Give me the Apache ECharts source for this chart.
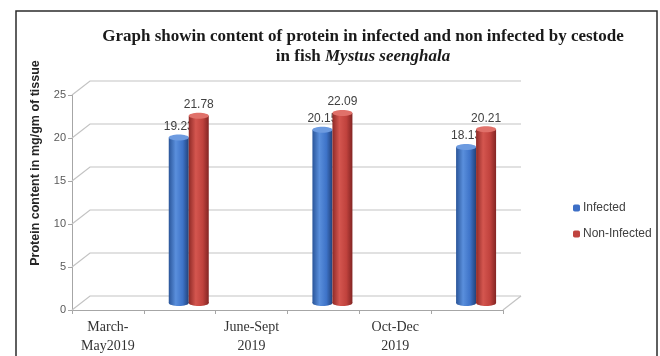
<!DOCTYPE html>
<html>
<head>
<meta charset="utf-8">
<script src="https://cdn.jsdelivr.net/npm/echarts@6/dist/echarts.min.js"></script>
<style>
  html, body { margin: 0; padding: 0; background: #fff; }
  #chart { width: 660px; height: 356px; }
</style>
</head>
<body>
<div id="chart"></div>
<script>
// Sampling periods (every other slot left blank, bars sit in the blank slots)
const categories = ['March-\nMay2019', '', 'June-Sept\n2019', '', 'Oct-Dec\n2019', ''];
// Protein content, mg/gm of tissue
const infected    = [null, 19.23, null, 20.15, null, 18.13];
const nonInfected = [null, 21.78, null, 22.09, null, 20.21];
const yTicks = [0, 5, 10, 15, 20, 25];

// Depth of the pseudo-3D box (pixels toward the back wall)
const DX = 18, DY = -14;
const BAR_W = 20;

const pairs = arr => arr.map((v, i) => v == null ? null : [i, v]).filter(Boolean);

function barRenderer(side, colors) {
  return function (params, api) {
    const idx = api.value(0), v = api.value(1);
    const top = api.coord([idx, v]);
    const base = api.coord([idx, 0]);
    const x0 = side === 'left' ? top[0] + DX / 2 - BAR_W : top[0] + DX / 2;
    const yTop = top[1] + DY / 2;
    const yBase = base[1] + DY / 2;
    const grad = new echarts.graphic.LinearGradient(0, 0, 1, 0, [
      { offset: 0, color: colors[0] },
      { offset: 0.35, color: colors[1] },
      { offset: 0.7, color: colors[2] },
      { offset: 1, color: colors[3] }
    ]);
    return {
      type: 'group',
      children: [
        { type: 'ellipse', shape: { cx: x0 + BAR_W / 2, cy: yBase, rx: BAR_W / 2, ry: 3 }, style: { fill: grad } },
        { type: 'rect', shape: { x: x0, y: yTop, width: BAR_W, height: yBase - yTop }, style: { fill: grad } },
        { type: 'ellipse', shape: { cx: x0 + BAR_W / 2, cy: yTop, rx: BAR_W / 2, ry: 3 }, style: { fill: colors[4] } },
        { type: 'text', style: {
            text: api.value(1).toFixed(2), x: x0 + BAR_W / 2, y: yTop - 5,
            align: 'center', verticalAlign: 'bottom',
            font: '12px "Liberation Sans", Arial, sans-serif', fill: '#404040'
        } }
      ]
    };
  };
}

const chart = echarts.init(document.getElementById('chart'), null, { renderer: 'canvas' });

chart.setOption({
  backgroundColor: '#ffffff',
  animation: false,
  title: {
    left: 358, top: 22, textAlign: 'center',
    text: '{b|Graph showin content of protein in infected and non infected by cestode}\n{b|in fish }{i|Mystus seenghala}',
    textStyle: {
      rich: {
        b: { fontFamily: '"Liberation Serif", "Times New Roman", serif', fontWeight: 'bold', fontSize: 17, color: '#1a1a1a', lineHeight: 20 },
        i: { fontFamily: '"Liberation Serif", "Times New Roman", serif', fontWeight: 'bold', fontStyle: 'italic', fontSize: 17, color: '#1a1a1a', lineHeight: 20 }
      }
    }
  },
  legend: {
    orient: 'vertical', left: 568, top: 197,
    itemWidth: 7, itemHeight: 7, itemGap: 14, icon: 'roundRect',
    textStyle: { fontFamily: '"Liberation Sans", Arial, sans-serif', fontSize: 12, color: '#404040', padding: [0, 0, 0, -2] },
    data: ['Infected', 'Non-Infected']
  },
  grid: { left: 72, right: 157, top: 95, bottom: 44 },
  xAxis: {
    type: 'category', data: categories, boundaryGap: true,
    axisLine: { lineStyle: { color: '#a6a6a6' } },
    axisTick: { show: true, interval: 0, length: 4, lineStyle: { color: '#a6a6a6' } },
    axisLabel: {
      interval: 0, margin: 8, color: '#333',
      fontFamily: '"Liberation Serif", "Times New Roman", serif', fontSize: 14, lineHeight: 19
    }
  },
  yAxis: {
    type: 'value', min: 0, max: 25, interval: 5,
    axisLine: { show: true, lineStyle: { color: '#a6a6a6' } },
    axisTick: { show: true, length: 4, lineStyle: { color: '#a6a6a6' } },
    axisLabel: { color: '#595959', fontFamily: '"Liberation Sans", Arial, sans-serif', fontSize: 11, margin: 6 },
    splitLine: { show: false }
  },
  graphic: [
    { type: 'rect', shape: { x: 16, y: 11, width: 641, height: 360 }, style: { fill: 'none', stroke: '#2b2b2b', lineWidth: 1.5 }, z: 10 },
    { type: 'text', x: 36, y: 163, rotation: Math.PI / 2,
      style: { text: 'Protein content in mg/gm of tissue', align: 'center', verticalAlign: 'middle',
               font: 'bold 12.5px "Liberation Sans", Arial, sans-serif', fill: '#262626' } }
  ],
  series: [
    {
      // back wall gridlines, side-wall diagonals and floor outline
      type: 'custom', name: 'grid', silent: true, z: 1,
      data: yTicks.map(v => [0, v]),
      encode: { x: 0, y: 1 },
      renderItem: function (params, api) {
        const y = api.coord([0, api.value(1)])[1];
        const cs = params.coordSys;
        const left = cs.x, right = cs.x + cs.width;
        const children = [{
          type: 'polyline',
          shape: { points: [[left, y], [left + DX, y + DY], [right + DX, y + DY]] },
          style: { stroke: '#c3c3c3', lineWidth: 1.2, fill: 'none' }
        }];
        if (api.value(1) === 0) {
          children.push({
            type: 'polyline',
            shape: { points: [[right, y], [right + DX, y + DY]] },
            style: { stroke: '#c3c3c3', lineWidth: 1.2, fill: 'none' }
          });
        }
        return { type: 'group', children };
      }
    },
    {
      type: 'custom', name: 'Infected', z: 2,
      itemStyle: { color: '#3d6fc6' },
      data: pairs(infected),
      encode: { x: 0, y: 1 },
      renderItem: barRenderer('left', ['#2a5599', '#5a8fdc', '#3e73c8', '#22427a', '#6d9be0'])
    },
    {
      type: 'custom', name: 'Non-Infected', z: 3,
      itemStyle: { color: '#c0443f' },
      data: pairs(nonInfected),
      encode: { x: 0, y: 1 },
      renderItem: barRenderer('right', ['#8f2a27', '#d4564f', '#c0423d', '#832523', '#e0716a'])
    }
  ]
});
</script>
</body>
</html>
